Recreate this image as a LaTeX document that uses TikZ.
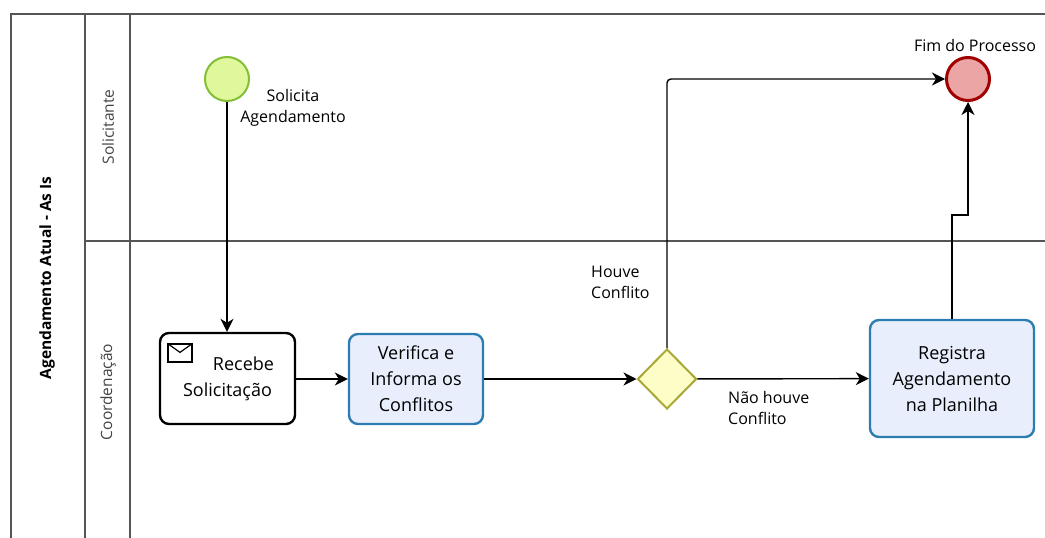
\documentclass[tikz,border=0pt]{standalone}
\usepackage{fontspec}
\setmainfont{Open Sans}
\usetikzlibrary{shapes.geometric,arrows.meta}
\definecolor{poolline}{HTML}{555555}
\definecolor{startfill}{HTML}{DFF89C}
\definecolor{startdraw}{HTML}{84BE35}
\definecolor{endfill}{HTML}{EBA5A5}
\definecolor{enddraw}{HTML}{A00000}
\definecolor{taskfill}{HTML}{E8EEFC}
\definecolor{taskdraw}{HTML}{2E7DB2}
\definecolor{gwfill}{HTML}{FDFDC8}
\definecolor{gwdraw}{HTML}{A8A836}
\definecolor{lanetext}{HTML}{444444}
\tikzset{
  poolln/.style={draw=poolline, line width=1.4pt},
  startev/.style={circle, draw=startdraw, fill=startfill, line width=2pt, minimum size=44pt, inner sep=0pt},
  endev/.style={circle, draw=enddraw, fill=endfill, line width=3pt, minimum size=43pt, inner sep=0pt},
  taskblack/.style={rectangle, rounded corners=9pt, draw=black, fill=white, line width=2.4pt, align=center, font=\fontsize{18}{26}\selectfont, inner sep=0pt},
  taskblue/.style={rectangle, rounded corners=9pt, draw=taskdraw, fill=taskfill, line width=2.4pt, align=center, font=\fontsize{18}{26}\selectfont, inner sep=0pt},
  gateway/.style={diamond, draw=gwdraw, fill=gwfill, line width=2pt, minimum width=59pt, minimum height=60pt, inner sep=0pt},
  flow/.style={draw=black, line width=1.4pt, -{Stealth[length=13pt,width=13pt,inset=4pt]}},
  lbl/.style={font=\fontsize{16}{21}\selectfont, inner sep=0pt},
  lanelbl/.style={font=\fontsize{15.5}{20}\selectfont, text=lanetext, rotate=90, inner sep=0pt},
  poollbl/.style={font=\bfseries\fontsize{15.5}{20}\selectfont, rotate=90, inner sep=0pt},
}
\begin{document}
\begin{tikzpicture}[x=1pt,y=-1pt]
\path[use as bounding box, fill=white] (0,0) rectangle (1045,538);
% pool and lanes
\draw[poolln] (11,538) -- (11,14) -- (1045,14);
\draw[poolln] (85,14) -- (85,538);
\draw[poolln] (130,14) -- (130,538);
\draw[poolln] (85,241) -- (1045,241);
\node[poollbl] (pool) at (47,278) {Agendamento Atual - As Is};
\node[lanelbl] (lane1) at (108,127) {Solicitante};
\node[lanelbl] (lane2) at (108,392) {Coordenação};
% events, tasks, gateway
\node[startev] (start) at (227,79) {};
\node[lbl, align=center] (startlbl) at (293,108) {Solicita\\Agendamento};
\node[taskblack, minimum width=135pt, minimum height=91pt] (recebe) at (227.5,378.5) {\hspace*{32pt}Recebe\\Solicitação};
\node[draw=black, line width=1.2pt, minimum width=24pt, minimum height=18pt, inner sep=0pt] (env) at (180,353) {};
\draw[line width=1.2pt] (env.north west) -- ([yshift=-9pt]env.north) -- (env.north east);
\node[taskblue, minimum width=134pt, minimum height=90pt] (verifica) at (416,379) {Verifica e\\Informa os\\Conflitos};
\node[gateway] (gw) at (667,379) {};
\node[taskblue, minimum width=164pt, minimum height=117pt] (registra) at (952,378.5) {Registra\\Agendamento\\na Planilha};
\node[endev] (end) at (968,79) {};
\node[lbl] (endlbl) at (975,45) {Fim do Processo};
% labels on flows
\node[lbl, align=left, anchor=west] (houve) at (591,282.5) {Houve\\Conflito};
\node[lbl, align=left, anchor=west] (naohouve) at (728,407.5) {Não houve\\Conflito};
% flows
\draw[flow] (start.south) -- (start.south |- recebe.north);
\draw[flow] (recebe.east |- verifica.west) -- (verifica.west);
\draw[flow] (verifica) -- (gw);
\draw[flow] (gw) -- (registra);
\draw[flow, rounded corners=4pt] (gw.north) |- (end.west);
\draw[flow] (registra.north) -- ++(0,-104) -| (end.south);
\end{tikzpicture}
\end{document}
